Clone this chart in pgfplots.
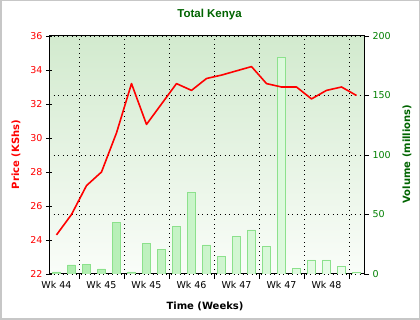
\documentclass[border=0pt]{standalone}
\usepackage{fontspec}
\setmainfont{DejaVu Sans}
\newfontfamily\titlefont{Liberation Sans}
\usepackage{pgfplots}
\pgfplotsset{compat=1.18}
\definecolor{bgtop}{RGB}{210,234,206}
\definecolor{bgbot}{RGB}{250,253,249}
\definecolor{baredge}{RGB}{140,225,140}
\definecolor{barleft}{RGB}{170,236,170}
\definecolor{barright}{RGB}{238,253,238}
\definecolor{dkgreen}{RGB}{0,100,0}
\definecolor{midgreen}{RGB}{0,128,0}
\pgfplotstableread{
x vol
0 1.7
1 7.6
2 8.4
3 4.2
4 42.9
5 1.7
6 25.5
7 21.0
8 40.3
9 68.9
10 24.4
11 15.1
12 31.9
13 37.0
14 23.5
15 182
16 5.0
17 11.8
18 11.8
19 6.7
20 1.0
}\voltable
\pgfplotstableread{
x price
0 24.3
1 25.5
2 27.2
3 28.0
4 30.3
5 33.2
6 30.8
7 32.0
8 33.2
9 32.8
10 33.5
11 33.7
12 33.95
13 34.2
14 33.2
15 33.0
16 33.0
17 32.3
18 32.8
19 33.0
20 32.5
}\pricetable
\begin{document}
\begin{tikzpicture}[x=1pt,y=1pt]
\fill[white] (0,0) rectangle (420,320);
\draw[black!22, line width=1.5pt] (0.75,0.75) rectangle (419.25,319.25);
\begin{axis}[
  at={(49pt,46pt)}, anchor=south west,
  width=315pt, height=238pt, scale only axis,
  xmin=-0.5, xmax=20.5, ymin=0, ymax=200,
  axis background/.style={top color=bgtop, bottom color=bgbot},
  axis line style={black, line width=1pt},
  /pgf/number format/assume math mode=true,
  tick label style={font=\fontsize{9.5}{11}\selectfont},
  ytick={0,50,...,200},
  ytick pos=right, yticklabel pos=right,
  yticklabel style={text=midgreen},
  xtick={1.5,4.5,...,19.5}, xticklabels={},
  xtick pos=bottom,
  tick align=outside, major tick length=5pt,
  tick style={black, line width=0.8pt},
  grid=major,
  major grid style={black, line width=0.9pt, dash pattern=on 0.9pt off 3.6pt},
  extra x ticks={0,3,...,18},
  extra x tick labels={Wk 44,Wk 45,Wk 45,Wk 46,Wk 47,Wk 47,Wk 48},
  extra x tick style={grid=none, major tick length=0pt, xticklabel style={text=black, yshift=-4pt}},
]
\addplot[ybar, bar width=0.52, draw=baredge, line width=0.9pt, left color=barleft, right color=barright] table[x=x, y=vol] {\voltable};
\end{axis}
\begin{axis}[
  at={(49pt,46pt)}, anchor=south west,
  width=315pt, height=238pt, scale only axis,
  xmin=-0.5, xmax=20.5, ymin=22, ymax=36,
  axis y line*=left, axis x line=none,
  axis line style={black, line width=1pt},
  /pgf/number format/assume math mode=true,
  tick label style={font=\fontsize{9.5}{11}\selectfont},
  ytick={22,24,...,36},
  yticklabel style={text=red},
  tick align=center, major tick length=6pt,
  tick style={black, line width=0.8pt},
]
\addplot[red, line width=1.6pt, line join=round] table[x=x, y=price] {\pricetable};
\end{axis}
\node[font=\titlefont\bfseries\fontsize{11.5}{13}\selectfont, text=dkgreen] at (209.5,305) {Total Kenya};
\node[font=\bfseries\fontsize{10}{12}\selectfont, text=red, rotate=90] at (16,165.5) {Price (KShs)};
\node[font=\bfseries\fontsize{10}{12}\selectfont, text=dkgreen, rotate=90] at (407,166) {Volume (millions)};
\node[font=\bfseries\fontsize{10}{12}\selectfont, text=black] at (205,14) {Time (Weeks)};
\end{tikzpicture}
\end{document}
